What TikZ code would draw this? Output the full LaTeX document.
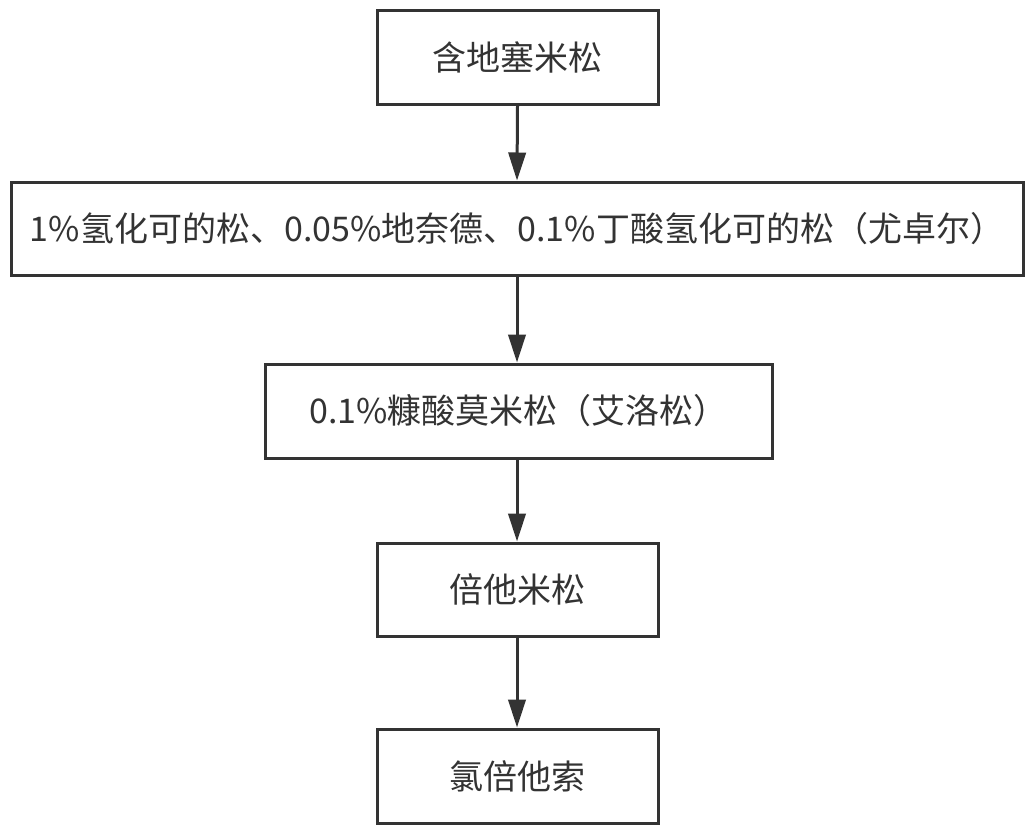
\documentclass[tikz,border=0pt]{standalone}
\usepackage{fontspec}
\setmainfont{Noto Sans CJK SC}
\usetikzlibrary{arrows.meta}
\definecolor{ln}{HTML}{333333}
\begin{document}
\begin{tikzpicture}[x=0.75pt,y=-0.75pt,
  box/.style={draw=ln,line width=2.25pt,text=ln,inner sep=0pt,font=\fontsize{25.5}{30}\selectfont},
  arr/.style={draw=ln,line width=2.25pt,-{Triangle[length=21pt,width=13pt]}}]
\useasboundingbox (0,0) rectangle (1034,833);
\node[box,minimum width=281*0.75pt,minimum height=94*0.75pt] (a) at (517.5,57) {含地塞米松};
\node[box,minimum width=1012*0.75pt,minimum height=93*0.75pt] (b) at (517,228.5) {1\%氢化可的松、0.05\%地奈德、0.1\%丁酸氢化可的松（尤卓尔）};
\node[box,minimum width=507*0.75pt,minimum height=94*0.75pt] (c) at (518.5,411) {0.1\%糠酸莫米松（艾洛松）};
\node[box,minimum width=281*0.75pt,minimum height=93*0.75pt] (d) at (517.5,589.5) {倍他米松};
\node[box,minimum width=281*0.75pt,minimum height=94*0.75pt] (e) at (517.5,776) {氯倍他索};
\draw[arr] (a.south) -- (b.north);
\draw[arr] (b.south) -- (b.south |- c.north);
\draw[arr] (b.south |- c.south) -- (b.south |- d.north);
\draw[arr] (b.south |- d.south) -- (b.south |- e.north);
\end{tikzpicture}
\end{document}
